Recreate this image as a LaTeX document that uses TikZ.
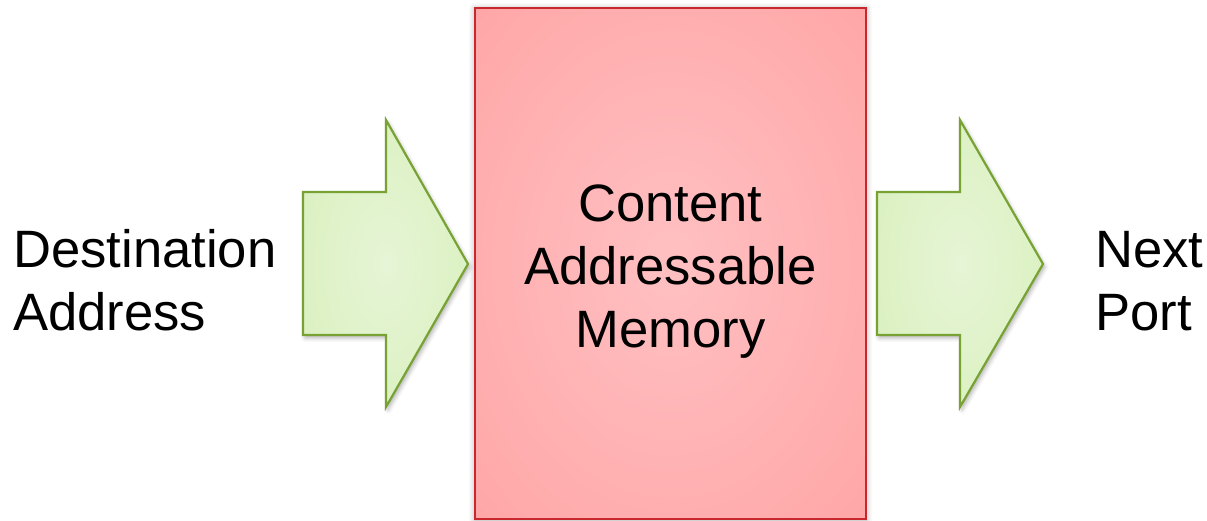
\documentclass[tikz,border=0pt]{standalone}
\usepackage{fontspec}
\setmainfont{Liberation Sans}
\usetikzlibrary{shadows.blur}
\definecolor{camedge}{RGB}{255,156,156}
\definecolor{camcorner}{RGB}{255,145,145}
\definecolor{camcenter}{RGB}{255,192,194}
\definecolor{camline}{RGB}{200,40,45}
\definecolor{arredge}{RGB}{210,237,176}
\definecolor{arrcorner}{RGB}{203,233,165}
\definecolor{arrcenter}{RGB}{230,245,214}
\definecolor{arrline}{RGB}{120,163,52}
\pgfdeclareradialshading{camshade}{\pgfpoint{0bp}{0bp}}{color(0bp)=(camcenter); color(50bp)=(camedge); color(70bp)=(camcorner)}
\pgfdeclareradialshading{arrshade}{\pgfpoint{0bp}{0bp}}{color(0bp)=(arrcenter); color(50bp)=(arredge); color(70bp)=(arrcorner)}
\tikzset{
  label text/.style={font=\fontsize{52.6}{63}\selectfont, inner sep=0pt, align=left},
  cam box/.style={draw=camline, line width=2pt, shading=camshade,
    blur shadow={shadow xshift=0pt, shadow yshift=-1pt, shadow blur radius=6pt, shadow opacity=35}},
  flow arrow/.style={draw=arrline, line width=2.2pt, line join=miter, shading=arrshade,
    blur shadow={shadow xshift=2pt, shadow yshift=-3pt, shadow blur radius=4pt, shadow opacity=30}}
}
\begin{document}
\begin{tikzpicture}[x=1pt,y=1pt]
  \useasboundingbox (0,0) rectangle (1207,520);
  % content addressable memory block
  \path[cam box] (475,1) rectangle (866,512);
  \node[label text, align=center, anchor=base] (cam) at (670.5,173) {Content\\Addressable\\Memory};
  % input arrow
  \path[flow arrow] (303,328) -- (386,328) -- (386,400) -- (468,256) -- (386,113) -- (386,185) -- (303,185) -- cycle;
  % output arrow
  \path[flow arrow] (877,328) -- (960,328) -- (960,400) -- (1043,256) -- (960,113) -- (960,185) -- (877,185) -- cycle;
  % labels
  \node[label text, anchor=base west] (dst) at (13,190) {Destination\\Address};
  \node[label text, anchor=base west] (nxt) at (1095,190) {Next\\Port};
\end{tikzpicture}
\end{document}
